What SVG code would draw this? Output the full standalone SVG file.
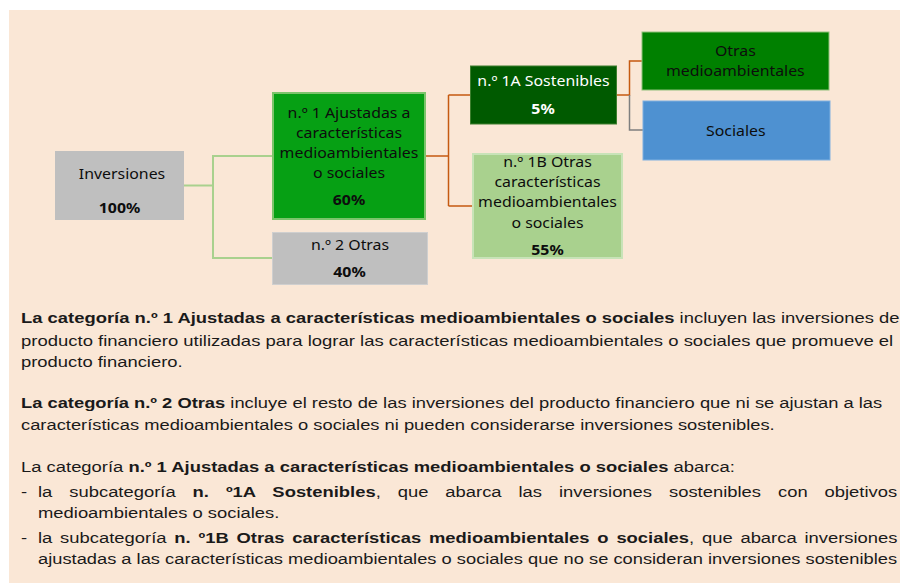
<svg xmlns="http://www.w3.org/2000/svg" width="900" height="586" viewBox="0 0 900 586">
<style>
.d{font-family:"Noto Sans","Open Sans",sans-serif;font-size:13.8px;fill:#0d0d0d;text-anchor:middle}
.w{fill:#ffffff}
.p{font-weight:bold}
.t{font-family:"Liberation Sans",Arial,sans-serif;font-size:14.5px;fill:#1a1a1a}
.b{font-weight:bold}
.cg{fill:none;stroke:#a9d18e;stroke-width:2}
.co{fill:none;stroke:#c55a11;stroke-width:1.5}
.cy{fill:none;stroke:#7f7f7f;stroke-width:1.5}
</style>
<rect x="0" y="0" width="900" height="586" fill="#ffffff"/>
<rect x="9" y="10" width="891" height="573" fill="#fae7d6"/>
<g id="connectors">
<path class="cg" d="M184 185.5H213M213 156V258M212 156H272M212 258H272"/>
<path class="co" d="M426 156H448.5M448.5 95V206M448.5 95H470M448.5 206H472M617 95H629.5V61H642"/>
<path class="cy" d="M629.5 95V130H643"/>
</g>
<g id="inversiones">
<rect x="55" y="151" width="129" height="69" fill="#bfbfbf"/>
<text class="d" transform="translate(122,179) scale(1.15,1)">Inversiones</text>
<text class="d p" transform="translate(119.5,213) scale(1.15,1)">100%</text>
</g>
<g id="n1">
<rect x="273" y="93" width="152" height="126" fill="#06a014" stroke="#7cc46b" stroke-width="2"/>
<text class="d" transform="translate(349,117.5) scale(1.15,1)">n.º 1 Ajustadas a</text>
<text class="d" transform="translate(349,137.7) scale(1.15,1)">características</text>
<text class="d" transform="translate(349,157.7) scale(1.15,1)">medioambientales</text>
<text class="d" transform="translate(349,177.7) scale(1.15,1)">o sociales</text>
<text class="d p" transform="translate(349,205) scale(1.15,1)">60%</text>
</g>
<g id="n2">
<rect x="272.5" y="232.5" width="155" height="52" fill="#bfbfbf" stroke="#cfcfcf" stroke-width="1"/>
<text class="d" transform="translate(350,250) scale(1.15,1)">n.º 2 Otras</text>
<text class="d p" transform="translate(349.5,277) scale(1.15,1)">40%</text>
</g>
<g id="n1a">
<rect x="470.5" y="66" width="146" height="58" fill="#005a00" stroke="#3e7f2e" stroke-width="1"/>
<text class="d w" transform="translate(543.5,86) scale(1.15,1)">n.º 1A Sostenibles</text>
<text class="d w p" transform="translate(543,114) scale(1.15,1)">5%</text>
</g>
<g id="n1b">
<rect x="473" y="154" width="149" height="104" fill="#a9d18e" stroke="#c8e3b8" stroke-width="2"/>
<text class="d" transform="translate(547.5,166.7) scale(1.15,1)">n.º 1B Otras</text>
<text class="d" transform="translate(547.5,187.3) scale(1.15,1)">características</text>
<text class="d" transform="translate(547.5,207.3) scale(1.15,1)">medioambientales</text>
<text class="d" transform="translate(547.5,227.7) scale(1.15,1)">o sociales</text>
<text class="d p" transform="translate(547.5,255) scale(1.15,1)">55%</text>
</g>
<g id="otras-medioambientales">
<rect x="642" y="32" width="187" height="58" fill="#008000" stroke="#8fc07a" stroke-width="1"/>
<text class="d" transform="translate(735.3,55.7) scale(1.15,1)">Otras</text>
<text class="d" transform="translate(735.3,76) scale(1.15,1)">medioambientales</text>
</g>
<g id="sociales">
<rect x="643" y="101" width="187" height="59" fill="#4e91d1" stroke="#7eb0e0" stroke-width="1"/>
<text class="d" transform="translate(735.8,135.7) scale(1.15,1)">Sociales</text>
</g>
<g id="texto">
<text class="t" transform="translate(21,323) scale(1.27,1)"><tspan class="b">La categoría n.º 1 Ajustadas a características medioambientales o sociales</tspan> incluyen las inversiones del</text>
<text class="t" transform="translate(21,346) scale(1.275,1)">producto financiero utilizadas para lograr las características medioambientales o sociales que promueve el</text>
<text class="t" transform="translate(21,367) scale(1.27,1)">producto financiero.</text>
<text class="t" transform="translate(21,408) scale(1.265,1)"><tspan class="b">La categoría n.º 2 Otras</tspan> incluye el resto de las inversiones del producto financiero que ni se ajustan a las</text>
<text class="t" transform="translate(21,430) scale(1.265,1)">características medioambientales o sociales ni pueden considerarse inversiones sostenibles.</text>
<text class="t" transform="translate(21,472) scale(1.27,1)">La categoría <tspan class="b">n.º 1 Ajustadas a características medioambientales o sociales</tspan> abarca:</text>
<text class="t" transform="translate(21,497) scale(1.27,1)" word-spacing="9.3"><tspan x="0">-</tspan><tspan x="13.4">la subcategoría </tspan><tspan class="b">n. º1A Sostenibles</tspan>, que abarca las inversiones sostenibles con objetivos</text>
<text class="t" transform="translate(38,518) scale(1.27,1)">medioambientales o sociales.</text>
<text class="t" transform="translate(21,543) scale(1.27,1)" word-spacing="2.1"><tspan x="0">-</tspan><tspan x="13.4">la subcategoría </tspan><tspan class="b">n. º1B Otras características medioambientales o sociales</tspan>, que abarca inversiones</text>
<text class="t" transform="translate(38,564) scale(1.262,1)">ajustadas a las características medioambientales o sociales que no se consideran inversiones sostenibles</text>
</g>
</svg>
